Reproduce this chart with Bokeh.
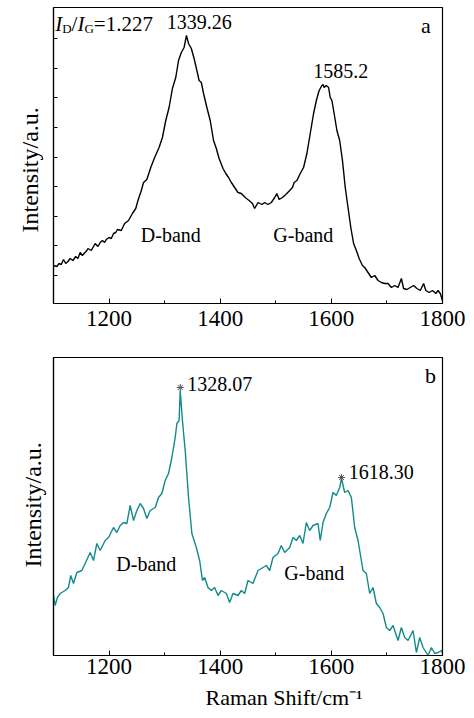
import math
from bokeh.plotting import figure
from bokeh.models import Range1d, Label, SingleIntervalTicker, FixedTicker, Title
from bokeh.layouts import column
from bokeh.embed import file_html
from bokeh.resources import INLINE

# ---------------- data ----------------
# Panel a: Raman shift (cm-1) and intensity (a.u.)
a_shift = [
    1100, 1106, 1110, 1114, 1118, 1122, 1126, 1130, 1135, 1140,
    1144, 1148, 1152, 1155, 1160, 1162, 1168, 1172, 1175, 1180,
    1184, 1188, 1192, 1195, 1200, 1204, 1208, 1212, 1215, 1222,
    1228, 1235, 1242, 1248, 1252, 1258, 1262, 1268, 1275, 1282,
    1290, 1296, 1302, 1308, 1314, 1320, 1325, 1330, 1335, 1339.26,
    1343, 1348, 1353, 1358, 1362, 1366, 1370, 1376, 1382, 1388,
    1393, 1398, 1405, 1410, 1415, 1420, 1426, 1432, 1438, 1445,
    1452, 1458, 1462, 1468, 1475, 1480, 1486, 1492, 1498, 1502,
    1506, 1512, 1518, 1525, 1530, 1533, 1538, 1544, 1550, 1556,
    1562, 1568, 1573, 1578, 1583, 1585.2, 1587, 1591, 1595, 1598,
    1601, 1605, 1610, 1615, 1620, 1625, 1630, 1635, 1640, 1645,
    1650, 1656, 1660, 1666, 1672, 1678, 1684, 1690, 1696, 1702,
    1708, 1714, 1720, 1726, 1730, 1736, 1742, 1748, 1754, 1760,
    1766, 1770, 1776, 1782, 1788, 1792, 1796, 1800,
]
a_intensity = [
    38, 37, 40, 39, 44, 40, 42, 45, 43, 47,
    45, 51, 48, 50, 53, 55, 53, 57, 60, 57,
    61, 63, 61, 64, 66, 65, 70, 71, 74, 73,
    80, 83, 90, 95, 103, 113, 121, 124, 136, 146,
    156, 166, 183, 196, 215, 226, 243, 251, 256, 268,
    260, 255, 245, 233, 223, 221, 210, 196, 183, 163,
    155, 145, 135, 130, 126, 121, 116, 111, 110, 106,
    103, 100, 95, 101, 99, 101, 99, 101, 106, 110,
    104, 106, 109, 113, 116, 121, 123, 130, 136, 150,
    170, 190, 203, 213, 218, 219, 216, 218, 216, 206,
    203, 190, 173, 163, 143, 116, 96, 76, 60, 53,
    45, 38, 36, 31, 26, 28, 23, 21, 20, 20,
    16, 18, 16, 25, 15, 14, 16, 18, 15, 13,
    20, 13, 11, 13, 10, 13, 10, 3,
]

# Panel b
b_shift = [
    1100, 1103, 1107, 1112, 1121, 1127, 1131, 1136, 1142, 1151,
    1157, 1166, 1172, 1178, 1184, 1193, 1199, 1208, 1214, 1220,
    1226, 1232, 1238, 1244, 1250, 1256, 1262, 1268, 1274, 1283,
    1289, 1295, 1301, 1307, 1313, 1319, 1322, 1326, 1328.07, 1332,
    1337, 1343, 1349, 1357, 1363, 1368, 1372, 1378, 1384, 1390,
    1396, 1402, 1411, 1417, 1423, 1432, 1438, 1444, 1450, 1459,
    1468, 1477, 1483, 1489, 1495, 1504, 1510, 1516, 1525, 1531,
    1537, 1543, 1549, 1555, 1561, 1567, 1576, 1580, 1585, 1591,
    1597, 1603, 1609, 1615, 1618.30, 1624, 1630, 1636, 1642, 1648,
    1651, 1657, 1663, 1669, 1675, 1681, 1687, 1693, 1699, 1705,
    1711, 1720, 1726, 1732, 1738, 1747, 1753, 1759, 1765, 1774,
    1780, 1786, 1792, 1798, 1800,
]
b_intensity = [
    60, 50, 58, 62, 65, 68, 80, 72, 83, 85,
    92, 103, 95, 112, 105, 115, 118, 128, 123, 130,
    133, 132, 150, 135, 145, 152, 147, 137, 145, 148,
    158, 162, 175, 182, 198, 218, 232, 235, 265, 235,
    205, 158, 122, 108, 95, 75, 78, 68, 65, 68,
    60, 65, 62, 53, 62, 60, 65, 62, 75, 72,
    85, 88, 90, 85, 98, 102, 110, 103, 108, 118,
    115, 120, 112, 133, 125, 130, 132, 115, 133, 142,
    148, 163, 160, 168, 177, 163, 165, 158, 128, 115,
    105, 85, 82, 62, 68, 52, 48, 42, 28, 25,
    30, 15, 28, 18, 15, 25, 3, 18, 8, 0,
    8, 2, 3, 5, 2,
]
b_peak_shift = [1328.07, 1618.30]
b_peak_intensity = [268, 178]
b_peak_labels = ["1328.07", "1618.30"]

a_peak_labels = ["1339.26", "1585.2"]
x_ticks_major = 200

SERIF = "Liberation Serif"
TEAL = "#128a8a"
DY = 7  # baseline correction for labels


def base_fig(height, left, right, top, bottom, ymax):
    p = figure(width=474, height=height, output_backend="svg", toolbar_location=None,
               x_range=Range1d(1100, 1800), y_range=Range1d(0, ymax),
               min_border_left=left, min_border_right=right,
               min_border_top=top, min_border_bottom=bottom)
    p.background_fill_color = "white"
    p.border_fill_color = "white"
    p.outline_line_color = "black"
    p.outline_line_width = 1.2
    p.xgrid.visible = False
    p.ygrid.visible = False
    xa = p.xaxis[0]
    xa.ticker = SingleIntervalTicker(interval=x_ticks_major, num_minor_ticks=2)
    xa.major_label_text_font = SERIF
    xa.major_label_text_font_size = "23px"
    xa.major_label_text_color = "black"
    xa.major_tick_in = 5
    xa.major_tick_out = 0
    xa.minor_tick_in = 3
    xa.minor_tick_out = 0
    xa.axis_line_width = 1.2
    xa.axis_line_color = "black"
    xa.major_tick_line_color = "black"
    xa.minor_tick_line_color = "black"
    ya = p.yaxis[0]
    ya.major_label_text_color = None
    ya.major_label_text_font_size = "1px"
    ya.major_label_standoff = 0
    ya.major_tick_out = 0
    ya.minor_tick_in = 0
    ya.minor_tick_out = 0
    ya.axis_line_width = 1.2
    ya.axis_line_color = "black"
    return p


def lab(p, x, y, text, size, align="left", style="normal", color="black"):
    p.add_layout(Label(x=x, y=y + DY, x_units="screen", y_units="screen", text=text,
                       text_font=SERIF, text_font_size=f"{size}px", text_align=align,
                       text_baseline="alphabetic", text_font_style=style,
                       text_color=color))


def side_title(p, text, place, offset, standoff, size, align="left"):
    t = Title(text=text, align=align, offset=offset, standoff=standoff,
              text_font=SERIF, text_font_size=f"{size}px", text_font_style="normal",
              text_color="black")
    p.add_layout(t, place)


# ---------------- panel a ----------------
p1 = base_fig(345, 51, 32, 7, 42, 296)
p1.xaxis[0].major_label_standoff = 7
p1.yaxis[0].ticker = FixedTicker(ticks=[28 + 29.6 * k for k in range(9)])
p1.yaxis[0].major_tick_in = 4
p1.yaxis[0].major_tick_line_color = "black"
p1.line(a_shift, a_intensity, line_color="black", line_width=1.4)

lab(p1, 1.7, 272.3, "I", 21, style="italic")
lab(p1, 8.7, 268, "D", 13)
lab(p1, 18.1, 272.3, "/", 21)
lab(p1, 23.9, 272.3, "I", 21, style="italic")
lab(p1, 30.9, 268, "G", 13)
lab(p1, 40.3, 272.3, "=1.227", 21)
lab(p1, 145.7, 274.7, a_peak_labels[0], 20, align="center")
lab(p1, 287.2, 225.7, a_peak_labels[1], 20, align="center")
lab(p1, 372.3, 271.3, "a", 22, align="center")
lab(p1, 117.3, 61.3, "D-band", 20, align="center")
lab(p1, 249.8, 61.3, "G-band", 20, align="center")
side_title(p1, "Intensity/a.u.", "left", 71, 22, 24)

# ---------------- panel b ----------------
p2 = base_fig(373, 53, 31, 12, 63, 298)
p2.xaxis[0].major_label_standoff = 3
p2.yaxis[0].major_tick_in = 0
p2.yaxis[0].major_tick_line_color = None
p2.line(b_shift, b_intensity, line_color=TEAL, line_width=1.4)
p2.scatter(b_peak_shift, b_peak_intensity, marker="asterisk", size=7,
           line_color="#555555", line_width=1)

lab(p2, 133.7, 264.3, b_peak_labels[0], 20)
lab(p2, 295.3, 176.7, b_peak_labels[1], 20)
lab(p2, 377, 273.3, "b", 22, align="center")
lab(p2, 92.8, 85, "D-band", 20, align="center")
lab(p2, 260.8, 76, "G-band", 20, align="center")
side_title(p2, "Intensity/a.u.", "left", 88, 16, 24)
side_title(p2, "Raman Shift/cm\u207b\u00b9", "below", 152, 13, 22)

layout = column(p1, p2, spacing=0)
open("out.html", "w").write(file_html(layout, INLINE))
